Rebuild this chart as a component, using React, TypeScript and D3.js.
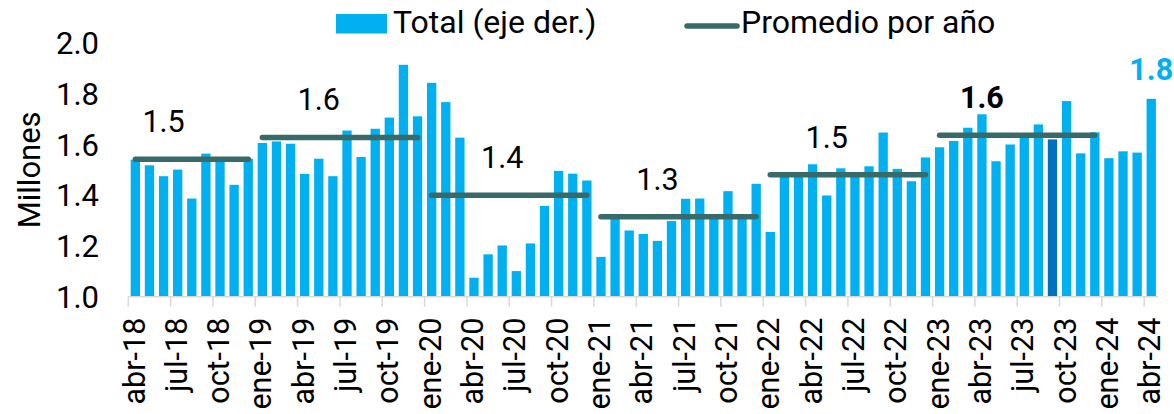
import React from "react";
import * as d3 from "d3";

// monthly totals, abr-18 .. abr-24 (millions)
const months = [
  "abr-18", "may-18", "jun-18", "jul-18", "ago-18", "sep-18", "oct-18", "nov-18", "dic-18",
  "ene-19", "feb-19", "mar-19", "abr-19", "may-19", "jun-19", "jul-19", "ago-19", "sep-19", "oct-19", "nov-19", "dic-19",
  "ene-20", "feb-20", "mar-20", "abr-20", "may-20", "jun-20", "jul-20", "ago-20", "sep-20", "oct-20", "nov-20", "dic-20",
  "ene-21", "feb-21", "mar-21", "abr-21", "may-21", "jun-21", "jul-21", "ago-21", "sep-21", "oct-21", "nov-21", "dic-21",
  "ene-22", "feb-22", "mar-22", "abr-22", "may-22", "jun-22", "jul-22", "ago-22", "sep-22", "oct-22", "nov-22", "dic-22",
  "ene-23", "feb-23", "mar-23", "abr-23", "may-23", "jun-23", "jul-23", "ago-23", "sep-23", "oct-23", "nov-23", "dic-23",
  "ene-24", "feb-24", "mar-24", "abr-24",
];

const totals = [
  1.54, 1.518, 1.475, 1.501, 1.387, 1.564, 1.545, 1.441, 1.544,
  1.606, 1.612, 1.603, 1.484, 1.544, 1.475, 1.655, 1.551, 1.662, 1.706, 1.914, 1.711,
  1.843, 1.767, 1.627, 1.075, 1.167, 1.202, 1.101, 1.21, 1.358, 1.496, 1.485, 1.458,
  1.157, 1.31, 1.261, 1.247, 1.22, 1.298, 1.386, 1.387, 1.31, 1.416, 1.31, 1.445,
  1.255, 1.475, 1.478, 1.522, 1.399, 1.506, 1.49, 1.514, 1.647, 1.504, 1.455, 1.549,
  1.589, 1.614, 1.666, 1.719, 1.534, 1.6, 1.64, 1.679, 1.62, 1.771, 1.565, 1.648,
  1.546, 1.573, 1.568, 1.78,
];

const highlightMonth = "sep-23";

// yearly averages: first month, last month, value, month where label sits
const avgStart = ["abr-18", "ene-19", "ene-20", "ene-21", "ene-22", "ene-23"];
const avgEnd = ["dic-18", "dic-19", "dic-20", "dic-21", "dic-22", "dic-23"];
const avgValues = [1.542, 1.628, 1.4, 1.315, 1.481, 1.636];
const avgLabelAt = ["jun-18", "may-19", "jun-20", "may-21", "may-22", "abr-23"];
const avgLabels = ["1.5", "1.6", "1.4", "1.3", "1.5", "1.6"];

const tickMonths = months.filter((_, i) => i % 3 === 0);
const yTicks = [1.0, 1.2, 1.4, 1.6, 1.8, 2.0];

const W = 1174;
const H = 414;
const font = "Roboto, sans-serif";
const barBlue = "#00B0F0";
const darkBlue = "#0070C0";
const lineColor = "#386A69";
const axisGray = "#D9D9D9";

export default function App() {
  const x = d3.scaleBand<string>().domain(months).range([128.3, 1158.3]).paddingInner(0.34).paddingOuter(0.17);
  const y = d3.scaleLinear().domain([1, 2]).range([296.7, 43]);
  const step = x.step();
  const bw = x.bandwidth();
  const cx = (m: string) => (x(m) as number) + bw / 2;
  const last = months[months.length - 1];

  return (
    <svg width={W} height={H} style={{ position: "absolute", left: 0, top: 0, background: "#fff" }} fontFamily={font}>
      {/* legend */}
      <rect x={336} y={14} width={51} height={19.5} fill={barBlue} />
      <text x={393} y={33} fontSize={32} fill="#000">Total (eje der.)</text>
      <line x1={687} x2={737} y1={26} y2={26} stroke={lineColor} strokeWidth={5.5} strokeLinecap="round" />
      <text x={741} y={33} fontSize={32} fill="#000">Promedio por año</text>

      {/* y axis */}
      {yTicks.map((t) => (
        <text key={t} x={99} y={y(t)} dy="0.36em" textAnchor="end" fontSize={31} fill="#000">
          {t.toFixed(1)}
        </text>
      ))}
      <text transform={`translate(29,${y(1.5)}) rotate(-90)`} textAnchor="middle" dy="0.36em" fontSize={31} fill="#000">
        Millones
      </text>

      {/* bars */}
      {months.map((m, i) => (
        <rect
          key={m}
          x={x(m)}
          y={y(totals[i])}
          width={bw}
          height={y(1) - y(totals[i])}
          fill={m === highlightMonth ? darkBlue : barBlue}
        />
      ))}

      {/* x axis */}
      <line x1={128.3} x2={1158.3} y1={y(1)} y2={y(1)} stroke={axisGray} strokeWidth={1.5} />
      {tickMonths.map((m) => {
        const tx = (x(m) as number) - (step - bw) / 2;
        return (
          <g key={m}>
            <line x1={tx} x2={tx} y1={y(1)} y2={y(1) + 10} stroke={axisGray} strokeWidth={1.5} />
            <text
              transform={`translate(${cx(m)},${y(1) + 21}) rotate(-90)`}
              textAnchor="end"
              dy="0.3em"
              fontSize={30.5}
              fill="#000"
            >
              {m}
            </text>
          </g>
        );
      })}

      {/* yearly averages */}
      {avgValues.map((v, i) => (
        <g key={avgStart[i]}>
          <line
            x1={cx(avgStart[i])}
            x2={cx(avgEnd[i])}
            y1={y(v)}
            y2={y(v)}
            stroke={lineColor}
            strokeWidth={5.5}
            strokeLinecap="round"
          />
          <text
            x={cx(avgLabelAt[i])}
            y={y(v) - 27}
            textAnchor="middle"
            fontSize={30.5}
            fontWeight={i === avgValues.length - 1 ? "bold" : "normal"}
            fill="#000"
          >
            {avgLabels[i]}
          </text>
        </g>
      ))}

      {/* last value label */}
      <text x={cx(last)} y={y(totals[totals.length - 1]) - 19} textAnchor="middle" fontSize={30.5} fontWeight="bold" fill={barBlue}>
        {totals[totals.length - 1].toFixed(1)}
      </text>
    </svg>
  );
}
